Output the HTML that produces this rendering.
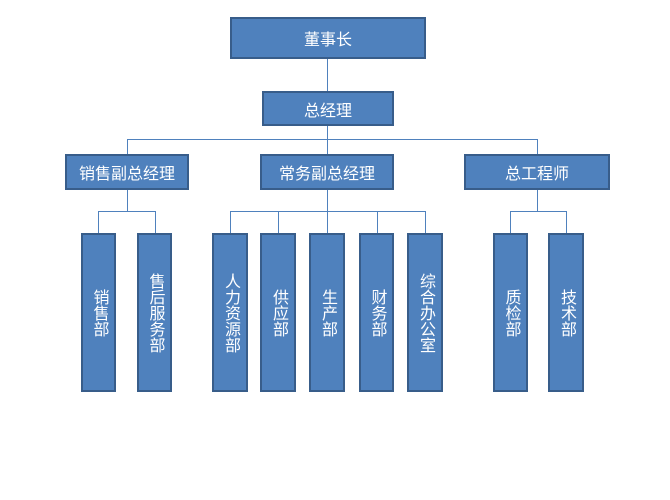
<!DOCTYPE html>
<html><head><meta charset="utf-8"><style>
html,body{margin:0;padding:0;background:#fff;}
body{width:670px;height:500px;position:relative;overflow:hidden;font-family:"Liberation Sans","Noto Sans CJK SC",sans-serif;}
.b{position:absolute;box-sizing:border-box;background:#4F81BD;border:2px solid #385D8A;color:#fff;display:flex;align-items:center;justify-content:center;font-size:16px;}
.v{writing-mode:vertical-rl;text-orientation:upright;line-height:20px;letter-spacing:0px;}
.l{position:absolute;background:#4F81BD;}
</style></head><body>
<!-- lines -->
<div class="l" style="left:327px;top:58px;width:1px;height:34px"></div>
<div class="l" style="left:327px;top:125px;width:1px;height:30px"></div>
<div class="l" style="left:127px;top:139px;width:411px;height:1px"></div>
<div class="l" style="left:127px;top:139px;width:1px;height:16px"></div>
<div class="l" style="left:537px;top:139px;width:1px;height:16px"></div>

<div class="l" style="left:127px;top:189px;width:1px;height:23px"></div>
<div class="l" style="left:98px;top:211px;width:57px;height:1px"></div>
<div class="l" style="left:98px;top:211px;width:1px;height:22px"></div>
<div class="l" style="left:155px;top:211px;width:1px;height:22px"></div>

<div class="l" style="left:327px;top:189px;width:1px;height:23px"></div>
<div class="l" style="left:230px;top:211px;width:196px;height:1px"></div>
<div class="l" style="left:230px;top:211px;width:1px;height:22px"></div>
<div class="l" style="left:278px;top:211px;width:1px;height:22px"></div>
<div class="l" style="left:327px;top:211px;width:1px;height:22px"></div>
<div class="l" style="left:377px;top:211px;width:1px;height:22px"></div>
<div class="l" style="left:425px;top:211px;width:1px;height:22px"></div>

<div class="l" style="left:537px;top:189px;width:1px;height:23px"></div>
<div class="l" style="left:510px;top:211px;width:57px;height:1px"></div>
<div class="l" style="left:510px;top:211px;width:1px;height:22px"></div>
<div class="l" style="left:566px;top:211px;width:1px;height:22px"></div>

<!-- boxes -->
<div class="b" style="left:230px;top:17px;width:196px;height:42px">董事长</div>
<div class="b" style="left:262px;top:91px;width:132px;height:35px">总经理</div>
<div class="b" style="left:65px;top:154px;width:124px;height:36px">销售副总经理</div>
<div class="b" style="left:260px;top:154px;width:134px;height:36px">常务副总经理</div>
<div class="b" style="left:464px;top:154px;width:146px;height:36px">总工程师</div>

<div class="b v" style="left:81px;top:233px;width:35px;height:159px">销售部</div>
<div class="b v" style="left:137px;top:233px;width:35px;height:159px">售后服务部</div>
<div class="b v" style="left:212px;top:233px;width:36px;height:159px">人力资源部</div>
<div class="b v" style="left:260px;top:233px;width:36px;height:159px">供应部</div>
<div class="b v" style="left:309px;top:233px;width:36px;height:159px">生产部</div>
<div class="b v" style="left:359px;top:233px;width:35px;height:159px">财务部</div>
<div class="b v" style="left:407px;top:233px;width:36px;height:159px">综合办公室</div>
<div class="b v" style="left:493px;top:233px;width:35px;height:159px">质检部</div>
<div class="b v" style="left:548px;top:233px;width:36px;height:159px">技术部</div>
</body></html>
